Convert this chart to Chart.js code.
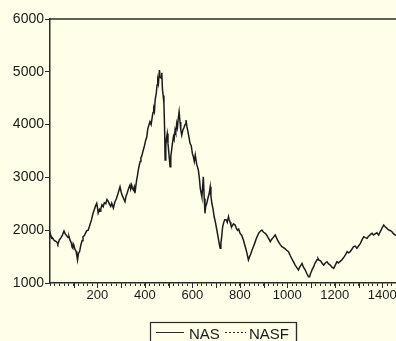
<!DOCTYPE html>
<html>
<head>
<meta charset="utf-8">
<script src="https://cdn.jsdelivr.net/npm/chart.js@4.4.0/dist/chart.umd.min.js"></script>
<style>
  html, body { margin: 0; padding: 0; background: #fefee9; }
  #wrap { width: 396px; height: 341px; overflow: hidden; }
  canvas { display: block; }
</style>
</head>
<body>
<div id="wrap"><canvas id="grafico" width="420" height="341"></canvas></div>
<script>
// dias (eixo x) e valores
const dias = [0, 2, 4, 7, 10, 15, 20, 25, 30, 33, 35, 40, 45, 52, 55, 59, 64, 70, 76, 80,
  84, 87, 90, 93, 96, 98, 100, 105, 110, 113, 116, 120, 125, 130, 135, 139, 145, 150, 155, 161,
  168, 175, 182, 189, 193, 197, 200, 203, 208, 211, 214, 219, 224, 229, 235, 240, 246, 251, 256, 260,
  267, 273, 280, 287, 295, 300, 305, 310, 316, 320, 325, 331, 337, 340, 344, 347, 351, 355, 358, 362,
  365, 369, 372, 376, 380, 383, 386, 392, 398, 403, 408, 412, 416, 421, 426, 431, 434, 437, 440, 443,
  448, 451, 454, 457, 461, 464, 468, 471, 474, 477, 480, 483, 485, 488, 491, 494, 497, 500, 503, 506,
  509, 512, 516, 520, 523, 527, 530, 534, 537, 540, 544, 548, 551, 555, 560, 565, 569, 573, 577, 582,
  586, 590, 595, 600, 604, 608, 612, 618, 625, 629, 633, 637, 640, 643, 646, 650, 653, 656, 660, 663,
  667, 671, 675, 678, 682, 687, 692, 697, 703, 707, 711, 714, 717, 720, 724, 727, 731, 736, 742, 747,
  752, 755, 759, 762, 766, 773, 780, 785, 790, 795, 801, 808, 815, 820, 825, 830, 836, 841, 846, 851,
  857, 863, 870, 875, 880, 886, 893, 900, 907, 914, 920, 924, 928, 933, 938, 944, 949, 955, 960, 968,
  977, 984, 990, 997, 1005, 1012, 1020, 1026, 1033, 1040, 1047, 1051, 1055, 1062, 1068, 1075, 1082, 1089, 1094, 1097,
  1100, 1105, 1111, 1115, 1120, 1125, 1129, 1134, 1140, 1147, 1153, 1160, 1167, 1174, 1181, 1188, 1195, 1202, 1209, 1215,
  1220, 1225, 1230, 1235, 1240, 1246, 1252, 1258, 1265, 1272, 1279, 1286, 1293, 1300, 1308, 1315, 1322, 1329, 1336, 1341,
  1346, 1351, 1357, 1363, 1370, 1377, 1385, 1390, 1395, 1400, 1406, 1413, 1420, 1425, 1430, 1435, 1441, 1448, 1455, 1460];
const nas = [1900, 1880, 1909, 1850, 1860, 1820, 1800, 1790, 1770, 1740, 1760, 1820, 1850, 1900, 1940, 1985, 1930, 1900, 1860, 1880,
  1815, 1790, 1760, 1680, 1660, 1740, 1720, 1640, 1600, 1520, 1435, 1560, 1600, 1720, 1800, 1877, 1900, 1950, 1990, 2000,
  2100, 2200, 2330, 2420, 2470, 2510, 2430, 2325, 2390, 2360, 2400, 2480, 2445, 2520, 2500, 2580, 2540, 2490, 2450, 2510,
  2420, 2530, 2600, 2700, 2824, 2720, 2650, 2600, 2540, 2640, 2700, 2790, 2856, 2780, 2856, 2800, 2761, 2820, 2700, 2850,
  2950, 3050, 3140, 3230, 3300, 3380, 3392, 3500, 3600, 3700, 3770, 3920, 3980, 4055, 4000, 4150, 4230, 4300, 4250, 4466,
  4600, 4750, 4845, 4780, 5034, 4900, 4882, 4980, 4655, 4550, 4403, 3900, 3330, 3600, 3750, 3830, 3650, 3500, 3350, 3204,
  3400, 3500, 3650, 3770, 3720, 3900, 3850, 4023, 3950, 4100, 4245, 4050, 3900, 3800, 3900, 3950, 4000, 4087, 3960, 3850,
  3750, 3645, 3600, 3450, 3392, 3300, 3424, 3250, 3140, 3000, 2800, 2700, 2634, 2800, 3013, 2600, 2320, 2450, 2500, 2560,
  2634, 2700, 2824, 2650, 2510, 2400, 2250, 2150, 2004, 1900, 1800, 1720, 1657, 1750, 1900, 2050, 2130, 2200, 2200, 2150,
  2256, 2200, 2150, 2100, 2066, 2120, 2098, 2040, 2000, 2020, 1940, 1900, 1814, 1730, 1650, 1560, 1436, 1500, 1550, 1620,
  1688, 1760, 1850, 1900, 1950, 1980, 2004, 1960, 1940, 1900, 1850, 1820, 1782, 1820, 1850, 1880, 1909, 1850, 1800, 1740,
  1688, 1670, 1650, 1620, 1593, 1520, 1450, 1400, 1340, 1290, 1246, 1290, 1320, 1372, 1300, 1250, 1180, 1120, 1120, 1170,
  1200, 1260, 1310, 1360, 1400, 1440, 1467, 1430, 1420, 1370, 1340, 1380, 1403, 1360, 1340, 1300, 1278, 1340, 1403, 1380,
  1400, 1420, 1436, 1470, 1500, 1540, 1593, 1570, 1593, 1640, 1688, 1700, 1657, 1700, 1750, 1820, 1877, 1860, 1845, 1880,
  1900, 1920, 1940, 1910, 1930, 1950, 1909, 1960, 2000, 2050, 2098, 2060, 2036, 2010, 2000, 1990, 1972, 1930, 1909, 1900];
const rotulosX = [200, 400, 600, 800, 1000, 1200, 1400];
const rotulosY = [1000, 2000, 3000, 4000, 5000, 6000];
const nomesSeries = ['NAS', 'NASF'];

const corEixo = '#2b2b2b';
const fonteTexto = '"Liberation Sans", Arial, sans-serif';

// borda superior + ticks maiores a cada 100
const molduraPlugin = {
  id: 'moldura',
  afterDraw(chart) {
    const { ctx, chartArea } = chart;
    const x = chart.scales.x;
    ctx.save();
    ctx.strokeStyle = corEixo;
    ctx.lineWidth = 1.5;
    ctx.beginPath();
    ctx.moveTo(chartArea.left, chartArea.top);
    ctx.lineTo(chartArea.right, chartArea.top);
    ctx.stroke();
    ctx.lineWidth = 1;
    for (let v = 100; v < 1500; v += 100) {
      const px = Math.round(x.getPixelForValue(v)) + 0.5;
      ctx.beginPath();
      ctx.moveTo(px, chartArea.bottom);
      ctx.lineTo(px, chartArea.bottom + 5);
      ctx.stroke();
    }
    ctx.restore();
  }
};

// legenda com caixa, como na figura
const legendaPlugin = {
  id: 'legendaCaixa',
  afterDraw(chart) {
    const ctx = chart.ctx;
    ctx.save();
    ctx.strokeStyle = corEixo;
    ctx.lineWidth = 1.2;
    ctx.strokeRect(150.5, 322.5, 146, 30);
    ctx.fillStyle = '#1a1a1a';
    ctx.font = '15px ' + fonteTexto;
    ctx.textBaseline = 'alphabetic';
    // NAS - linha cheia
    ctx.lineWidth = 1;
    ctx.beginPath();
    ctx.moveTo(156, 332.5);
    ctx.lineTo(184, 332.5);
    ctx.stroke();
    ctx.fillText(chart.data.datasets[0].label, 189, 339);
    // NASF - pontilhada
    ctx.setLineDash([2, 2]);
    ctx.beginPath();
    ctx.moveTo(225, 332.5);
    ctx.lineTo(246, 332.5);
    ctx.stroke();
    ctx.setLineDash([]);
    ctx.fillText(chart.data.datasets[1].label, 249, 339);
    ctx.lineWidth = 1.2;
    ctx.beginPath();
    ctx.moveTo(296.5, 322.5);
    ctx.lineTo(296.5, 341);
    ctx.stroke();
    ctx.restore();
  }
};

const ctx = document.getElementById('grafico').getContext('2d');
new Chart(ctx, {
  type: 'line',
  data: {
    datasets: [{
      label: nomesSeries[0],
      data: dias.map((d, i) => ({ x: d, y: nas[i] })),
      borderColor: '#1c1c1c',
      borderWidth: 1.5,
      pointRadius: 0,
      tension: 0
    }, {
      label: nomesSeries[1],
      data: [],
      borderColor: '#1c1c1c',
      borderWidth: 1,
      borderDash: [2, 2],
      pointRadius: 0
    }]
  },
  options: {
    responsive: false,
    animation: false,
    layout: { padding: { top: 19, right: 14, bottom: 0, left: 0 } },
    plugins: {
      legend: { display: false },
      tooltip: { enabled: false }
    },
    scales: {
      x: {
        type: 'linear',
        min: 0,
        max: 1500,
        afterFit: (s) => { s.height = 58; },
        border: { display: true, color: corEixo, width: 1.5 },
        grid: { drawOnChartArea: false, color: corEixo, tickLength: 3 },
        ticks: {
          stepSize: 20,
          autoSkip: false,
          maxRotation: 0,
          padding: 2,
          color: '#1a1a1a',
          font: { size: 13, family: fonteTexto },
          callback: (v) => rotulosX.includes(v) ? String(v) : ''
        }
      },
      y: {
        min: 1000,
        max: 6000,
        afterFit: (s) => { s.width = 50; },
        border: { display: true, color: corEixo, width: 1.5 },
        grid: { drawOnChartArea: false, color: corEixo, tickLength: 5 },
        ticks: {
          stepSize: 1000,
          padding: 1,
          color: '#1a1a1a',
          font: { size: 14, family: fonteTexto },
          callback: (v) => rotulosY.includes(v) ? String(v) : ''
        }
      }
    }
  },
  plugins: [molduraPlugin, legendaPlugin]
});
</script>
</body>
</html>
